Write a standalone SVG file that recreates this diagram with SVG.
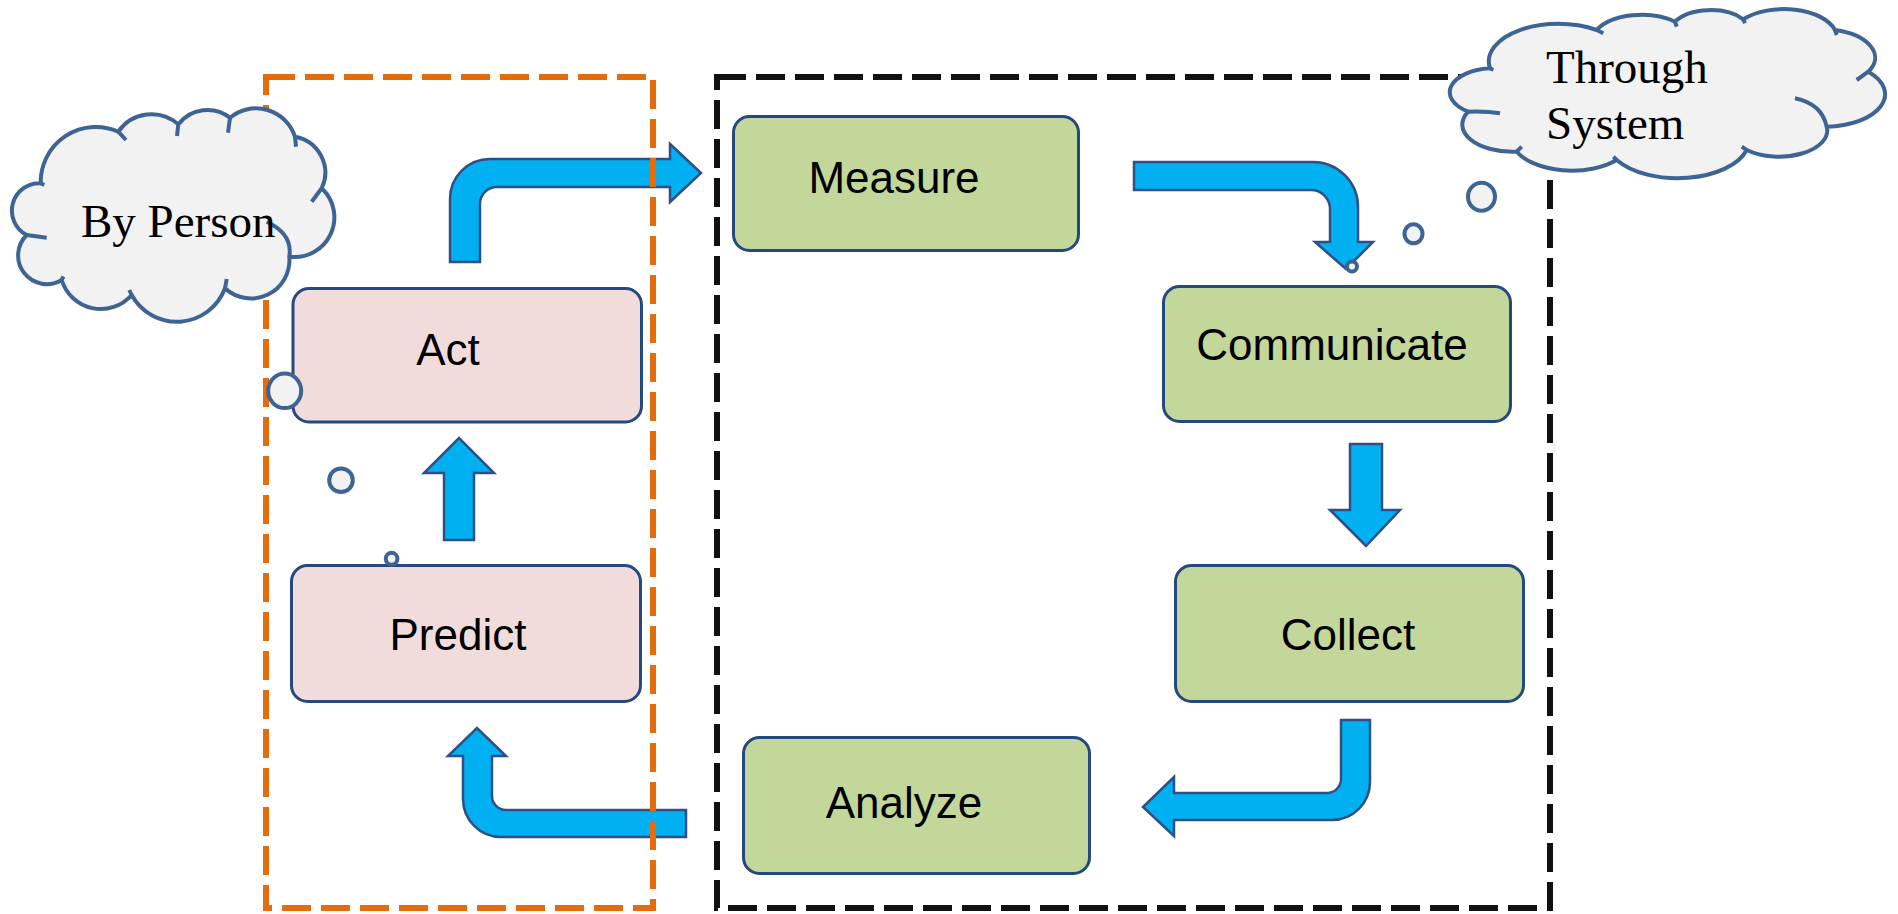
<svg xmlns="http://www.w3.org/2000/svg" width="1898" height="914" viewBox="0 0 1898 914">
<style>
.arrow{fill:#00B0F0;stroke:#2F4F86;stroke-width:2.5;stroke-linejoin:miter}
.frame{fill:none;stroke-width:6;stroke-dasharray:29 10}
.orange{stroke:#E46C0A}
.black{stroke:#111111}
.box{stroke:#24497E;stroke-width:3}
.pink{fill:#F2DCDB}
.green{fill:#C4D79B}
.lbl{font-family:"Liberation Sans",Arial,sans-serif;font-size:44px;fill:#000;text-anchor:middle}
.cloud{fill:#F2F2F2;stroke:#3D6494;stroke-width:4;stroke-linejoin:round}
.tail{fill:none;stroke:#3D6494;stroke-width:4;stroke-linecap:butt}
.ctext{font-family:"Liberation Serif","Times New Roman",serif;font-size:47px;fill:#000}
</style>

<g id="connectors">
  <path id="act-measure" class="arrow" d="M450 262 L450 199 A40 40 0 0 1 490 159 L670 159 L670 144 L701 173 L670 202 L670 187 L497 187 A17 17 0 0 0 480 204 L480 262 Z"/>
  <path id="measure-communicate" class="arrow" d="M1134 162 L1313 162 A45 45 0 0 1 1358 207 L1358 242 L1373 242 L1346 269 L1315 242 L1330 242 L1330 209 A19 19 0 0 0 1311 190 L1134 190 Z"/>
  <path id="communicate-collect" class="arrow" d="M1350 444 L1382 444 L1382 510 L1400 510 L1366 546 L1330 510 L1350 510 Z"/>
  <path id="collect-analyze" class="arrow" d="M1341 720 L1370 720 L1370 782 A38 38 0 0 1 1332 820 L1174 820 L1174 836 L1143 807 L1174 777 L1174 793 L1327 793 A14 14 0 0 0 1341 779 Z"/>
  <path id="analyze-predict" class="arrow" d="M686 810 L506 810 A14 14 0 0 1 492 796 L492 756 L506 756 L477 728 L448 756 L463 756 L463 799 A38 38 0 0 0 501 837 L686 837 Z"/>
  <path id="predict-act" class="arrow" d="M444 540 L444 473 L424 473 L459 438 L494 473 L474 473 L474 540 Z"/>
</g>

<g id="group-person">
  <path class="frame orange" d="M266 77 H653 V908 H266 Z"/>
</g>
<g id="group-system">
  <path class="frame black" d="M717 77 H1550 V908 H717 Z"/>
</g>

<g id="node-act">
  <rect class="box pink" x="293" y="288.5" width="348.5" height="133.5" rx="16"/>
  <text class="lbl" x="448" y="365">Act</text>
</g>
<g id="node-predict">
  <rect class="box pink" x="291.5" y="565.5" width="349" height="136" rx="16"/>
  <text class="lbl" x="458" y="650">Predict</text>
</g>
<g id="node-measure">
  <rect class="box green" x="733.5" y="116.5" width="345" height="134" rx="16"/>
  <text class="lbl" x="894" y="193">Measure</text>
</g>
<g id="node-communicate">
  <rect class="box green" x="1163.5" y="286.5" width="347" height="135" rx="16"/>
  <text class="lbl" x="1332" y="360">Communicate</text>
</g>
<g id="node-collect">
  <rect class="box green" x="1175.5" y="565.5" width="348" height="136" rx="16"/>
  <text class="lbl" x="1348" y="650">Collect</text>
</g>
<g id="node-analyze">
  <rect class="box green" x="743.5" y="737.5" width="346" height="136" rx="16"/>
  <text class="lbl" x="904" y="818">Analyze</text>
</g>

<g id="cloud-person">
  <path class="cloud" d="M40.7 183.3 A55.2 55.2 0 0 1 118.3 131.7 A40.6 40.6 0 0 1 178.3 124.3 A36.7 36.7 0 0 1 230 117.7 A40.9 40.9 0 0 1 295 136.7 A36.5 36.5 0 0 1 321.7 188.3 A39.7 39.7 0 0 1 289.3 256.7 A38.4 38.4 0 0 1 225 288.3 A51.4 51.4 0 0 1 131.7 295 A40.9 40.9 0 0 1 61.7 280 A28.7 28.7 0 0 1 26.7 235 A27.4 27.4 0 0 1 40.7 183.3 Z"/>
  <path class="tail" d="M118.3 131.7 L126 140 M178.3 124.3 L177 136 M230 117.7 L228 132.7 M295 136.7 L296 146.7 M321.7 188.3 L311.7 201.7 M289.3 256.7 Q293 234 266.7 221.7 M225 288.3 L226.7 279 M131.7 295 L129.3 290 M61.7 280 L63.5 276.5 M26.7 235 L46.7 237.7 M40.7 183.3 L44.3 185"/>
  <text class="ctext" x="81" y="237">By Person</text>
  <ellipse class="cloud" cx="284.7" cy="390.8" rx="16.5" ry="17.3"/>
  <ellipse class="cloud" cx="341" cy="480.3" rx="11.8" ry="11.8"/>
  <ellipse class="cloud" cx="391.6" cy="558.8" rx="5.8" ry="6"/>
</g>

<g id="cloud-system">
  <path class="cloud" d="M1490 68.3 A69.6 37.6 0 0 1 1596.7 30 A50.1 27.1 0 0 1 1675 21.7 A40.1 21.7 0 0 1 1743.3 19.3 A53.1 28.7 0 0 1 1835 30 A52.7 28.5 0 0 1 1868.3 71.7 A60.1 32.5 0 0 1 1826.7 126.7 A48.3 26.1 0 0 1 1746.7 150 A71.8 38.8 0 0 1 1616.7 160 A60.9 32.9 0 0 1 1516.7 151.7 A50.3 27.2 0 0 1 1468.3 111.7 A44.4 24 0 0 1 1490 68.3 Z"/>
  <path class="tail" d="M1596.7 30 L1603.3 33.3 M1675 21.7 L1676.7 26.7 M1743.3 19.3 L1745 23.3 M1835 30 L1836.7 35 M1868.3 71.7 L1856.7 80 M1826.7 126.7 Q1822 104 1795 98.3 M1746.7 150 L1741.7 146.7 M1616.7 160 L1613.3 156.7 M1516.7 151.7 L1521.7 146.7 M1468.3 111.7 Q1486 111 1500 113.3 M1490 68.3 L1493.3 70"/>
  <text class="ctext" x="1546" y="83">Through</text>
  <text class="ctext" x="1546" y="139">System</text>
  <ellipse class="cloud" cx="1481.5" cy="196.8" rx="13.5" ry="14"/>
  <ellipse class="cloud" cx="1413.5" cy="233.8" rx="9" ry="9.5"/>
  <ellipse class="cloud" cx="1352" cy="266.5" rx="5" ry="5"/>
</g>
</svg>
